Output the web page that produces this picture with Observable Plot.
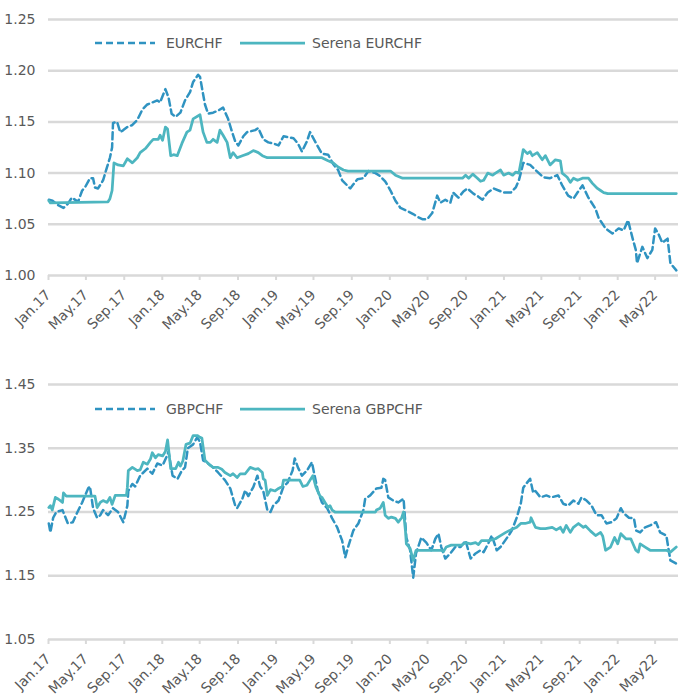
<!DOCTYPE html>
<html><head><meta charset="utf-8">
<script src="https://cdn.jsdelivr.net/npm/d3@7"></script>
<script src="https://cdn.jsdelivr.net/npm/@observablehq/plot@0.6"></script>
<style>body{margin:0;background:#fff;} #c svg{display:block;overflow:visible}</style>
</head><body><div id="c"></div>
<script>
const tickDates = ["2017-01-01","2017-05-01","2017-09-01","2018-01-01","2018-05-01","2018-09-01","2019-01-01","2019-05-01","2019-09-01","2020-01-01","2020-05-01","2020-09-01","2021-01-01","2021-05-01","2021-09-01","2022-01-01","2022-05-01"];
const tickLabels = ["Jan.17","May.17","Sep.17","Jan.18","May.18","Sep.18","Jan.19","May.19","Sep.19","Jan.20","May20","Sep.20","Jan.21","May21","Sep.21","Jan.22","May22"];
const eurTicks = [1.00,1.05,1.10,1.15,1.20,1.25];
const gbpTicks = [1.05,1.15,1.25,1.35,1.45];

const eurchf = [["2017-01-02",1.074],["2017-01-14",1.073],["2017-01-30",1.069],["2017-02-18",1.066],["2017-03-04",1.070],["2017-03-17",1.076],["2017-04-06",1.072],["2017-04-19",1.083],["2017-04-28",1.086],["2017-05-14",1.095],["2017-05-24",1.095],["2017-05-30",1.086],["2017-06-09",1.085],["2017-06-25",1.093],["2017-07-08",1.106],["2017-07-17",1.115],["2017-07-24",1.125],["2017-07-27",1.149],["2017-08-09",1.150],["2017-08-19",1.140],["2017-08-29",1.142],["2017-09-11",1.145],["2017-09-27",1.147],["2017-10-13",1.152],["2017-10-29",1.162],["2017-11-14",1.167],["2017-11-30",1.169],["2017-12-16",1.171],["2017-12-25",1.169],["2018-01-11",1.182],["2018-01-21",1.174],["2018-01-31",1.158],["2018-02-13",1.155],["2018-02-28",1.159],["2018-03-15",1.171],["2018-03-31",1.179],["2018-04-10",1.189],["2018-04-26",1.196],["2018-05-02",1.194],["2018-05-12",1.177],["2018-05-18",1.167],["2018-05-28",1.158],["2018-06-13",1.159],["2018-06-29",1.161],["2018-07-15",1.164],["2018-07-31",1.153],["2018-08-13",1.140],["2018-08-23",1.131],["2018-09-02",1.127],["2018-09-18",1.136],["2018-09-30",1.140],["2018-10-26",1.142],["2018-11-05",1.144],["2018-11-21",1.133],["2018-12-07",1.130],["2018-12-23",1.129],["2019-01-09",1.127],["2019-01-25",1.136],["2019-02-10",1.135],["2019-02-26",1.134],["2019-03-12",1.129],["2019-03-25",1.121],["2019-04-10",1.131],["2019-04-20",1.140],["2019-05-06",1.131],["2019-05-28",1.119],["2019-06-17",1.118],["2019-07-03",1.109],["2019-07-19",1.103],["2019-08-01",1.093],["2019-08-17",1.088],["2019-08-27",1.085],["2019-09-06",1.089],["2019-09-19",1.094],["2019-10-08",1.095],["2019-10-24",1.102],["2019-11-16",1.100],["2019-12-01",1.097],["2019-12-17",1.092],["2020-01-03",1.083],["2020-01-19",1.073],["2020-02-04",1.066],["2020-02-26",1.063],["2020-03-16",1.060],["2020-04-01",1.057],["2020-04-14",1.055],["2020-04-30",1.055],["2020-05-16",1.061],["2020-06-01",1.078],["2020-06-11",1.071],["2020-06-27",1.074],["2020-07-13",1.071],["2020-07-22",1.081],["2020-08-08",1.076],["2020-08-24",1.082],["2020-09-06",1.085],["2020-09-25",1.080],["2020-10-11",1.077],["2020-10-24",1.074],["2020-11-10",1.081],["2020-11-29",1.085],["2020-12-15",1.083],["2020-12-31",1.081],["2021-01-23",1.081],["2021-02-08",1.086],["2021-02-18",1.093],["2021-02-24",1.100],["2021-03-04",1.110],["2021-03-26",1.108],["2021-04-12",1.103],["2021-05-07",1.096],["2021-05-29",1.095],["2021-06-21",1.098],["2021-07-07",1.088],["2021-07-26",1.078],["2021-08-12",1.075],["2021-08-25",1.081],["2021-09-10",1.088],["2021-09-29",1.076],["2021-10-22",1.065],["2021-11-01",1.056],["2021-11-23",1.046],["2021-12-15",1.041],["2022-01-04",1.046],["2022-01-20",1.044],["2022-02-03",1.054],["2022-02-18",1.036],["2022-02-28",1.025],["2022-03-04",1.012],["2022-03-21",1.028],["2022-04-06",1.017],["2022-04-22",1.025],["2022-05-01",1.046],["2022-05-11",1.041],["2022-05-24",1.032],["2022-06-10",1.036],["2022-06-19",1.012],["2022-07-08",1.005]];

const serenaEurchf = [["2017-01-02",1.073],["2017-01-07",1.071],["2017-07-11",1.072],["2017-07-17",1.075],["2017-07-24",1.083],["2017-07-30",1.110],["2017-08-12",1.108],["2017-08-29",1.107],["2017-09-11",1.114],["2017-09-27",1.110],["2017-10-13",1.115],["2017-10-22",1.120],["2017-11-08",1.124],["2017-11-24",1.130],["2017-12-03",1.133],["2017-12-19",1.133],["2017-12-25",1.137],["2018-01-02",1.132],["2018-01-11",1.145],["2018-01-18",1.143],["2018-01-28",1.117],["2018-02-06",1.118],["2018-02-18",1.117],["2018-03-05",1.129],["2018-03-21",1.140],["2018-03-31",1.142],["2018-04-10",1.153],["2018-05-02",1.157],["2018-05-12",1.140],["2018-05-24",1.130],["2018-06-04",1.130],["2018-06-13",1.133],["2018-06-26",1.130],["2018-07-05",1.142],["2018-07-15",1.137],["2018-07-28",1.130],["2018-08-07",1.115],["2018-08-16",1.120],["2018-08-29",1.115],["2018-09-15",1.117],["2018-10-04",1.119],["2018-10-20",1.122],["2018-11-05",1.120],["2018-11-18",1.117],["2018-12-04",1.115],["2019-05-28",1.115],["2019-06-17",1.112],["2019-07-03",1.110],["2019-07-19",1.106],["2019-08-05",1.103],["2019-08-20",1.102],["2020-01-03",1.102],["2020-01-19",1.098],["2020-02-11",1.095],["2020-08-21",1.095],["2020-08-31",1.098],["2020-09-10",1.095],["2020-09-23",1.099],["2020-10-08",1.095],["2020-10-18",1.092],["2020-10-28",1.093],["2020-11-10",1.100],["2020-11-26",1.098],["2020-12-05",1.100],["2020-12-21",1.103],["2020-12-31",1.098],["2021-01-16",1.100],["2021-01-29",1.098],["2021-02-08",1.101],["2021-02-18",1.100],["2021-03-04",1.123],["2021-03-17",1.119],["2021-03-26",1.121],["2021-04-02",1.117],["2021-04-18",1.120],["2021-05-04",1.113],["2021-05-14",1.117],["2021-05-29",1.108],["2021-06-15",1.113],["2021-07-01",1.112],["2021-07-07",1.100],["2021-07-23",1.096],["2021-08-02",1.091],["2021-08-12",1.095],["2021-08-25",1.093],["2021-09-10",1.095],["2021-09-29",1.095],["2021-10-12",1.090],["2021-10-28",1.085],["2021-11-07",1.083],["2021-11-17",1.081],["2021-11-30",1.080],["2022-07-08",1.080]];

const gbpchf = [["2017-01-02",1.232],["2017-01-07",1.218],["2017-01-16",1.241],["2017-01-26",1.250],["2017-02-15",1.253],["2017-03-04",1.232],["2017-03-20",1.234],["2017-04-02",1.248],["2017-04-19",1.265],["2017-05-08",1.287],["2017-05-14",1.290],["2017-05-24",1.256],["2017-06-06",1.241],["2017-06-16",1.245],["2017-06-25",1.253],["2017-07-11",1.245],["2017-07-27",1.256],["2017-08-12",1.250],["2017-08-29",1.234],["2017-09-11",1.260],["2017-09-14",1.283],["2017-09-27",1.294],["2017-10-06",1.290],["2017-10-22",1.307],["2017-11-14",1.318],["2017-11-30",1.310],["2017-12-16",1.326],["2018-01-02",1.323],["2018-01-18",1.340],["2018-01-21",1.345],["2018-02-03",1.307],["2018-02-19",1.302],["2018-03-05",1.315],["2018-03-15",1.320],["2018-03-24",1.350],["2018-04-10",1.356],["2018-04-23",1.367],["2018-05-02",1.360],["2018-05-12",1.331],["2018-05-28",1.326],["2018-06-13",1.320],["2018-06-29",1.312],["2018-07-21",1.300],["2018-08-07",1.287],["2018-08-23",1.260],["2018-08-29",1.256],["2018-09-15",1.271],["2018-09-24",1.284],["2018-10-04",1.275],["2018-10-20",1.289],["2018-11-02",1.307],["2018-11-11",1.290],["2018-11-21",1.283],["2018-12-04",1.253],["2018-12-14",1.250],["2018-12-23",1.260],["2019-01-09",1.268],["2019-01-25",1.290],["2019-02-07",1.296],["2019-02-23",1.315],["2019-03-02",1.334],["2019-03-12",1.320],["2019-03-25",1.307],["2019-04-10",1.315],["2019-04-26",1.328],["2019-05-06",1.304],["2019-05-15",1.283],["2019-05-28",1.265],["2019-06-14",1.256],["2019-06-30",1.240],["2019-07-16",1.226],["2019-08-01",1.205],["2019-08-11",1.179],["2019-08-20",1.195],["2019-09-06",1.221],["2019-09-22",1.232],["2019-10-08",1.253],["2019-10-14",1.271],["2019-10-30",1.276],["2019-11-19",1.287],["2019-12-05",1.288],["2019-12-11",1.302],["2019-12-17",1.300],["2019-12-27",1.273],["2020-01-12",1.268],["2020-01-28",1.265],["2020-02-14",1.271],["2020-02-23",1.210],["2020-03-06",1.190],["2020-03-16",1.147],["2020-03-25",1.185],["2020-04-11",1.210],["2020-04-27",1.202],["2020-05-13",1.190],["2020-05-26",1.208],["2020-06-05",1.216],["2020-06-14",1.195],["2020-06-27",1.177],["2020-07-13",1.185],["2020-07-29",1.195],["2020-08-15",1.195],["2020-08-31",1.205],["2020-09-16",1.177],["2020-10-02",1.185],["2020-10-18",1.190],["2020-10-28",1.187],["2020-11-13",1.202],["2020-11-23",1.213],["2020-12-09",1.190],["2020-12-21",1.195],["2020-12-31",1.202],["2021-01-16",1.213],["2021-01-26",1.221],["2021-02-11",1.241],["2021-02-24",1.263],["2021-03-04",1.288],["2021-03-13",1.294],["2021-03-26",1.302],["2021-04-05",1.280],["2021-04-12",1.283],["2021-04-28",1.273],["2021-05-17",1.276],["2021-06-02",1.273],["2021-06-25",1.276],["2021-07-10",1.263],["2021-07-26",1.260],["2021-08-12",1.268],["2021-08-28",1.263],["2021-09-07",1.273],["2021-09-23",1.268],["2021-10-09",1.260],["2021-10-25",1.245],["2021-11-10",1.245],["2021-11-26",1.232],["2021-12-12",1.234],["2021-12-28",1.240],["2022-01-11",1.256],["2022-01-20",1.248],["2022-02-06",1.241],["2022-02-22",1.240],["2022-03-01",1.221],["2022-03-14",1.218],["2022-03-30",1.226],["2022-04-15",1.229],["2022-05-04",1.234],["2022-05-17",1.218],["2022-06-06",1.213],["2022-06-19",1.174],["2022-07-08",1.169]];

const serenaGbpchf = [["2017-01-02",1.257],["2017-01-07",1.260],["2017-01-13",1.253],["2017-01-23",1.273],["2017-02-02",1.270],["2017-02-15",1.265],["2017-02-18",1.280],["2017-02-27",1.275],["2017-05-30",1.275],["2017-06-06",1.257],["2017-06-16",1.265],["2017-06-25",1.268],["2017-07-08",1.265],["2017-07-17",1.273],["2017-07-24",1.262],["2017-08-03",1.276],["2017-09-08",1.276],["2017-09-11",1.289],["2017-09-14",1.315],["2017-09-27",1.320],["2017-10-13",1.315],["2017-10-22",1.316],["2017-11-01",1.328],["2017-11-14",1.325],["2017-11-24",1.333],["2017-11-30",1.343],["2017-12-10",1.335],["2017-12-19",1.340],["2018-01-02",1.338],["2018-01-11",1.345],["2018-01-18",1.363],["2018-01-28",1.318],["2018-02-13",1.318],["2018-02-22",1.328],["2018-02-28",1.322],["2018-03-08",1.330],["2018-03-18",1.356],["2018-03-31",1.358],["2018-04-10",1.370],["2018-04-23",1.370],["2018-05-02",1.367],["2018-05-08",1.366],["2018-05-18",1.331],["2018-06-04",1.323],["2018-06-13",1.320],["2018-06-29",1.320],["2018-07-11",1.317],["2018-07-21",1.312],["2018-08-07",1.307],["2018-08-16",1.310],["2018-08-29",1.304],["2018-09-08",1.310],["2018-09-24",1.310],["2018-10-10",1.320],["2018-10-26",1.317],["2018-11-05",1.318],["2018-11-18",1.312],["2018-11-21",1.302],["2018-11-27",1.300],["2018-12-04",1.276],["2018-12-14",1.285],["2018-12-29",1.283],["2019-01-09",1.287],["2019-01-21",1.290],["2019-01-25",1.300],["2019-03-18",1.300],["2019-03-28",1.290],["2019-04-10",1.292],["2019-04-20",1.300],["2019-04-29",1.307],["2019-05-09",1.289],["2019-05-22",1.275],["2019-05-28",1.273],["2019-06-07",1.265],["2019-06-17",1.257],["2019-06-23",1.260],["2019-06-30",1.253],["2019-07-09",1.250],["2019-11-16",1.250],["2019-11-19",1.253],["2019-12-01",1.256],["2019-12-11",1.265],["2019-12-17",1.245],["2019-12-27",1.240],["2020-01-06",1.242],["2020-01-19",1.240],["2020-01-28",1.234],["2020-02-08",1.241],["2020-02-14",1.250],["2020-02-20",1.221],["2020-02-23",1.200],["2020-03-06",1.193],["2020-03-16",1.174],["2020-03-25",1.190],["2020-06-14",1.190],["2020-06-21",1.188],["2020-06-30",1.195],["2020-07-16",1.198],["2020-08-18",1.198],["2020-08-31",1.202],["2020-09-16",1.200],["2020-10-02",1.202],["2020-10-11",1.199],["2020-10-21",1.205],["2020-11-13",1.205],["2020-12-05",1.208],["2020-12-21",1.213],["2021-01-07",1.218],["2021-01-23",1.222],["2021-02-02",1.224],["2021-02-11",1.226],["2021-02-24",1.232],["2021-03-10",1.232],["2021-03-26",1.234],["2021-03-29",1.241],["2021-04-12",1.226],["2021-04-28",1.224],["2021-05-14",1.224],["2021-06-05",1.226],["2021-06-18",1.222],["2021-07-01",1.226],["2021-07-10",1.218],["2021-07-20",1.229],["2021-08-02",1.218],["2021-08-12",1.226],["2021-08-28",1.232],["2021-09-13",1.226],["2021-09-20",1.228],["2021-10-06",1.220],["2021-10-22",1.213],["2021-11-07",1.218],["2021-11-14",1.212],["2021-11-23",1.190],["2021-12-09",1.195],["2021-12-22",1.210],["2022-01-01",1.200],["2022-01-11",1.216],["2022-01-27",1.208],["2022-02-12",1.208],["2022-02-28",1.190],["2022-03-08",1.187],["2022-03-14",1.200],["2022-03-30",1.195],["2022-04-15",1.190],["2022-06-06",1.190],["2022-06-19",1.187],["2022-07-08",1.195]];

const DASH = "#2f93c1", SOLID = "#4db6c0", GRID = "#d9d9d9", TXT = "#595959";
const toRows = a => a.map(([d, v]) => ({date: new Date(d), value: v}));
const labelOf = new Map(tickDates.map((d, i) => [+new Date(d), tickLabels[i]]));

function panel({height, marginTop, marginBottom, yDomain, yTicks, dashed, solid, names, legendY}) {
  const chart = Plot.plot({
    width: 678, height, marginTop, marginBottom, marginLeft: 48, marginRight: 0,
    style: {fontFamily: "DejaVu Sans", fontSize: "14px", color: TXT, background: "#fff", overflow: "visible"},
    x: {type: "utc", domain: [new Date("2017-01-01"), new Date("2022-07-15")], label: null},
    y: {domain: yDomain, label: null},
    marks: [
      Plot.gridY(yTicks, {stroke: GRID, strokeWidth: 2.5, strokeOpacity: 1}),
      Plot.axisY(yTicks, {tickSize: 0, tickPadding: 13, tickFormat: d => d.toFixed(2), fill: TXT, label: null}),
      Plot.axisX(tickDates.map(d => new Date(d)), {tickSize: 5, tickPadding: 12, stroke: GRID, strokeWidth: 2, strokeOpacity: 1, tickRotate: -45, tickFormat: d => labelOf.get(+d), fill: TXT, label: null}),
      Plot.line(toRows(dashed), {x: "date", y: "value", stroke: DASH, strokeWidth: 2.5, strokeDasharray: "7,4"}),
      Plot.line(toRows(solid), {x: "date", y: "value", stroke: SOLID, strokeWidth: 2.75})
    ]
  });
  const svg = d3.select(chart);
  const g = svg.append("g").attr("font-family", "DejaVu Sans").attr("font-size", 14)
    .attr("fill", TXT).attr("text-anchor", "start");
  g.append("line").attr("x1", 95).attr("x2", 155).attr("y1", legendY).attr("y2", legendY)
    .attr("stroke", DASH).attr("stroke-width", 2.5).attr("stroke-dasharray", "7,4");
  g.append("text").attr("x", 166).attr("y", legendY).attr("dy", "0.35em").attr("text-anchor", "start").text(names[0]);
  g.append("line").attr("x1", 240).attr("x2", 305).attr("y1", legendY).attr("y2", legendY)
    .attr("stroke", SOLID).attr("stroke-width", 2.75);
  g.append("text").attr("x", 312).attr("y", legendY).attr("dy", "0.35em").attr("text-anchor", "start").text(names[1]);
  return chart;
}

const c = document.getElementById("c");
c.append(panel({height: 345, marginTop: 19, marginBottom: 70, yDomain: [1.00, 1.25], yTicks: eurTicks,
  dashed: eurchf, solid: serenaEurchf, names: ["EURCHF", "Serena EURCHF"], legendY: 43}));
c.append(panel({height: 354, marginTop: 39, marginBottom: 60, yDomain: [1.05, 1.45], yTicks: gbpTicks,
  dashed: gbpchf, solid: serenaGbpchf, names: ["GBPCHF", "Serena GBPCHF"], legendY: 64}));
</script>
</body></html>
